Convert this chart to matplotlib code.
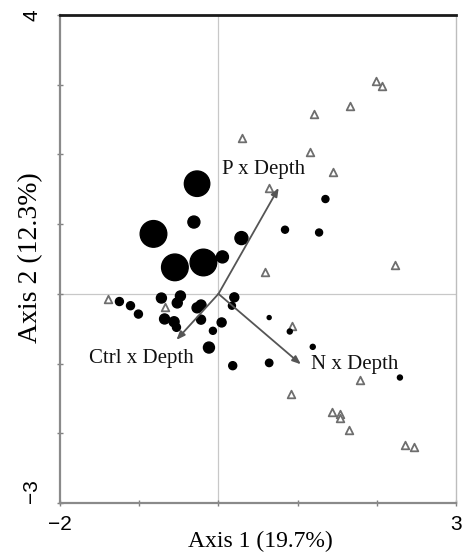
import matplotlib
matplotlib.use("Agg")
import matplotlib.pyplot as plt

# open triangles (axis 1, axis 2)
tri_x = [1.99, 2.06, 1.66, 1.21, 0.30, 1.15, 1.44, 0.64, 0.59, 2.23, -1.40,
         -0.68, 0.93, 1.79, 0.91, 1.43, 1.53, 1.54, 1.65, 2.35, 2.47]
tri_y = [3.05, 2.98, 2.70, 2.58, 2.24, 2.03, 1.75, 1.52, 0.31, 0.42, -0.07,
         -0.19, -0.46, -1.23, -1.44, -1.69, -1.72, -1.78, -1.95, -2.17, -2.20]

# filled circles, size = radius in pixels
dot_x = [-0.27, -0.82, -0.55, -0.19, -0.31, 0.29, 0.05, 0.20, 0.17, -1.25,
         -1.11, -1.01, -0.72, -0.48, -0.52, -0.27, -0.22, -0.68, -0.56, -0.53,
         -0.22, 0.04, -0.07, -0.12, 1.35, 0.84, 1.27, 0.64, 0.90, 1.19,
         0.64, 0.18, 2.29]
dot_y = [1.58, 0.86, 0.38, 0.45, 1.03, 0.80, 0.53, -0.05, -0.17, -0.11,
         -0.17, -0.29, -0.06, -0.03, -0.13, -0.20, -0.16, -0.36, -0.40, -0.48,
         -0.37, -0.41, -0.53, -0.77, 1.36, 0.92, 0.88, -0.34, -0.54, -0.76,
         -0.99, -1.03, -1.20]
dot_r = [12.7, 13.3, 13.3, 13.3, 6.0, 6.5, 6.0, 4.5, 3.5, 4.0,
         4.0, 4.0, 5.0, 5.0, 5.0, 5.0, 5.0, 5.0, 5.0, 4.0,
         4.5, 4.5, 3.5, 5.5, 3.5, 3.5, 3.5, 2.0, 2.5, 2.5,
         3.7, 4.0, 2.5]

# environmental vectors
vec_names = ["P x Depth", "Ctrl x Depth", "N x Depth"]
vec_x = [0.76, -0.53, 1.04]
vec_y = [1.52, -0.66, -1.01]
lab_x = [0.05, -1.63, 1.17]
lab_y = [1.78, -0.92, -1.01]

fig = plt.figure(figsize=(4.65, 5.54), dpi=100)
ax = fig.add_axes([0.129, 0.092, 0.852, 0.881])

ax.axvline(0, color="#c8c8c8", lw=0.9, zorder=0)
ax.axhline(0, color="#c8c8c8", lw=0.9, zorder=0)

ax.scatter(tri_x, tri_y, marker="^", s=30, facecolors="white",
           edgecolors="#6e6e6e", linewidths=1.3, zorder=2)
ax.scatter(dot_x, dot_y, s=[(2 * r * 0.72) ** 2 for r in dot_r],
           color="black", zorder=3)

for name, vx, vy, tx, ty in zip(vec_names, vec_x, vec_y, lab_x, lab_y):
    ax.annotate("", xy=(vx, vy), xytext=(0, 0),
                arrowprops=dict(arrowstyle="-|>,head_length=0.5,head_width=0.2",
                                color="#555555", lw=1.3, shrinkA=0, shrinkB=0),
                zorder=4)
    ax.text(tx, ty, name, ha="left", va="center", fontsize=15,
            family="Liberation Serif", color="#111111")

ax.set_xlim(-2, 3)
ax.set_ylim(-3, 4)
ax.set_xticks(range(-2, 4))
ax.set_xticklabels(["\u22122", "", "", "", "", "3"])
ax.set_yticks(range(-3, 5))
ax.set_yticklabels(["\u22123", "", "", "", "", "", "", "4"])

ax.tick_params(axis="both", direction="inout", length=5, width=1,
               color="#808080", labelsize=15)
ax.tick_params(axis="x", pad=6)
ax.tick_params(axis="y", pad=11)
for lab in ax.get_xticklabels() + ax.get_yticklabels():
    lab.set_family("Liberation Sans")
ylabs = ax.get_yticklabels()
ylabs[0].set_rotation(90)
ylabs[0].set_va("bottom")
ylabs[-1].set_rotation(90)
ylabs[-1].set_va("center")

ax.spines["left"].set_color("#8a8a8a")
ax.spines["left"].set_linewidth(1.6)
ax.spines["bottom"].set_color("#8a8a8a")
ax.spines["bottom"].set_linewidth(1.6)
ax.spines["top"].set_color("#1a1a1a")
ax.spines["top"].set_linewidth(2)
ax.spines["right"].set_color("#bdbdbd")
ax.spines["right"].set_linewidth(1)

ax.set_xlabel("Axis 1 (19.7%)", fontsize=17, family="Liberation Serif")
ax.set_ylabel("Axis 2 (12.3%)", fontsize=20, family="Liberation Serif")
ax.xaxis.set_label_coords(0.505, -0.058)
ax.yaxis.set_label_coords(-0.042, 0.502)

fig.savefig("out.png", dpi=100)
